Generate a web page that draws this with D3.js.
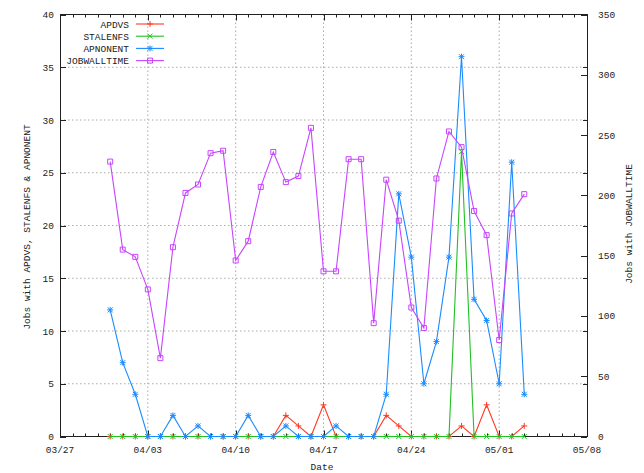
<!DOCTYPE html>
<html>
<head>
<meta charset="utf-8">
<script src="https://cdn.jsdelivr.net/npm/d3@7"></script>
<style>
  body { margin: 0; background: #fff; }
  text { font-family: "Liberation Mono", "DejaVu Sans Mono", monospace; font-size: 9.5px; fill: #222; }
</style>
</head>
<body>
<div id="chart"></div>
<script>
// daily samples, 03/31 .. 05/03
const days = [
  "03/31","04/01","04/02","04/03","04/04","04/05","04/06","04/07","04/08","04/09",
  "04/10","04/11","04/12","04/13","04/14","04/15","04/16","04/17","04/18","04/19",
  "04/20","04/21","04/22","04/23","04/24","04/25","04/26","04/27","04/28","04/29",
  "04/30","05/01","05/02","05/03"
];
const apdvs =    [0,0,0,0,0,0,0,0,0,0, 0,0,0,0,2,1,0,3,0,0, 0,0,2,1,0,0,0,0,1,0, 3,0,0,1];
const stalenfs = [0,0,0,0,0,0,0,0,0,0, 0,0,0,0,0,0,0,0,0,0, 0,0,0,0,0,0,0,0,27,0, 0,0,0,0];
const apnonent = [12,7,4,0,0,2,0,1,0,0, 0,2,0,0,1,0,0,0,1,0, 0,0,4,23,17,5,9,17,36,13, 11,5,26,4];
const jobwalltime = [228,155,149,122,65,157,202,209,235,237,
                     146,162,207,236,211,216,256,137,137,230,
                     230,94,213,179,107,90,214,253,240,187,
                     167,80,185,201];
const xTickLabels = ["03/27","04/03","04/10","04/17","04/24","05/01","05/08"];
const yTicks = [0,5,10,15,20,25,30,35,40];
const y2Ticks = [0,50,100,150,200,250,300,350];

const W = 644, H = 473;
const L = 60, R = 587, T = 14.5, B = 436.5;
const parse = s => d3.timeParse("%Y/%m/%d")("2008/" + s);

const x = d3.scaleTime().domain([parse("03/27"), parse("05/08")]).range([L, R]);
const y = d3.scaleLinear().domain([0, 40]).range([B, T]);
const y2 = d3.scaleLinear().domain([0, 350]).range([B, T]);

const svg = d3.select("#chart").append("svg")
  .attr("width", W).attr("height", H);

// grid
const grid = svg.append("g").attr("stroke", "#aaa").attr("stroke-dasharray", "1.5,2.5");
grid.selectAll("line.gx")
  .data(xTickLabels.slice(1, -1))
  .join("line")
  .attr("x1", d => x(parse(d))).attr("x2", d => x(parse(d)))
  .attr("y1", T).attr("y2", B);
grid.selectAll("line.gy")
  .data(yTicks.slice(1, -1))
  .join("line")
  .attr("y1", d => y(d)).attr("y2", d => y(d))
  .attr("x1", L).attr("x2", R);

// ticks
const tk = svg.append("g").attr("stroke", "#222").attr("stroke-width", 1);
const allDays = d3.timeDay.range(parse("03/27"), d3.timeDay.offset(parse("05/08"), 1));
allDays.forEach(d => {
  const major = xTickLabels.includes(d3.timeFormat("%m/%d")(d));
  const len = major ? 6 : 3;
  const px = Math.round(x(d)) + 0.5;
  tk.append("line").attr("x1", px).attr("x2", px).attr("y1", B).attr("y2", B - len);
  tk.append("line").attr("x1", px).attr("x2", px).attr("y1", T).attr("y2", T + len);
});
yTicks.forEach(v => {
  const py = Math.round(y(v)) + 0.5;
  tk.append("line").attr("x1", L).attr("x2", L + 6).attr("y1", py).attr("y2", py);
  tk.append("line").attr("x1", R).attr("x2", R - 4).attr("y1", py).attr("y2", py);
});
y2Ticks.forEach(v => {
  const py = Math.round(y2(v)) + 0.5;
  tk.append("line").attr("x1", R).attr("x2", R - 6).attr("y1", py).attr("y2", py);
});

// border
svg.append("rect")
  .attr("x", L + 0.5).attr("y", T).attr("width", R - L).attr("height", B - T)
  .attr("fill", "none").attr("stroke", "#222");

// tick labels
svg.append("g").selectAll("text")
  .data(xTickLabels).join("text")
  .attr("x", d => x(parse(d))).attr("y", 453)
  .attr("text-anchor", "middle").text(d => d);
svg.append("g").selectAll("text")
  .data(yTicks).join("text")
  .attr("x", 54).attr("y", d => y(d) + 3.5)
  .attr("text-anchor", "end").text(d => d);
svg.append("g").selectAll("text")
  .data(y2Ticks).join("text")
  .attr("x", 598).attr("y", d => y2(d) + 3.5)
  .attr("text-anchor", "start").text(d => d);

// axis titles
svg.append("text").attr("x", 322).attr("y", 470).attr("text-anchor", "middle").text("Date");
svg.append("text")
  .attr("transform", "translate(30,227) rotate(-90)")
  .attr("text-anchor", "middle").text("Jobs with APDVS, STALENFS & APNONENT");
svg.append("text")
  .attr("transform", "translate(632,224) rotate(-90)")
  .attr("text-anchor", "middle").text("Jobs with JOBWALLTIME");

// markers
function marker(g, type, cx, cy, color) {
  const s = 3;
  const p = g.append("path").attr("fill", "none").attr("stroke", color).attr("stroke-width", 1);
  if (type === "plus") p.attr("d", `M${cx - s},${cy}H${cx + s}M${cx},${cy - s}V${cy + s}`);
  if (type === "cross") p.attr("d", `M${cx - 2.5},${cy - 2.5}L${cx + 2.5},${cy + 2.5}M${cx - 2.5},${cy + 2.5}L${cx + 2.5},${cy - 2.5}`);
  if (type === "star") p.attr("d", `M${cx - s},${cy}H${cx + s}M${cx},${cy - s}V${cy + s}M${cx - 2.5},${cy - 2.5}L${cx + 2.5},${cy + 2.5}M${cx - 2.5},${cy + 2.5}L${cx + 2.5},${cy - 2.5}`);
  if (type === "square") p.attr("d", `M${cx - 2.5},${cy - 2.5}h5v5h-5z`);
}

const series = [
  { name: "APDVS", values: apdvs, scale: y, color: "#ff3a24", type: "plus" },
  { name: "STALENFS", values: stalenfs, scale: y, color: "#22c022", type: "cross" },
  { name: "APNONENT", values: apnonent, scale: y, color: "#1a8cff", type: "star" },
  { name: "JOBWALLTIME", values: jobwalltime, scale: y2, color: "#c844ff", type: "square" }
];

series.forEach((s, i) => {
  const g = svg.append("g");
  const line = d3.line()
    .x((d, j) => x(parse(days[j])))
    .y(d => s.scale(d));
  g.append("path").datum(s.values)
    .attr("d", line).attr("fill", "none")
    .attr("stroke", s.color).attr("stroke-width", 1.1);
  s.values.forEach((v, j) => marker(g, s.type, x(parse(days[j])), s.scale(v), s.color));

  // legend entry
  const ly = 24 + i * 12.2;
  svg.append("text").attr("x", 129).attr("y", ly + 3.5).attr("text-anchor", "end").text(s.name);
  svg.append("line").attr("x1", 136).attr("x2", 164).attr("y1", ly).attr("y2", ly)
    .attr("stroke", s.color).attr("stroke-width", 1.1);
  marker(svg, s.type, 150, ly, s.color);
});
</script>
</body>
</html>
